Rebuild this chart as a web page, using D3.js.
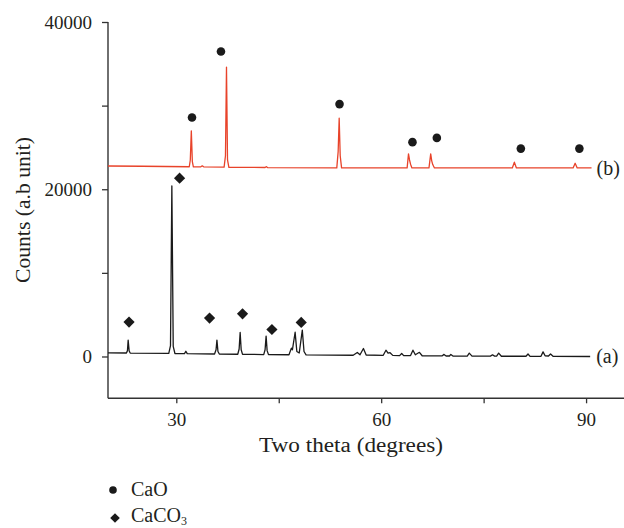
<!DOCTYPE html>
<html>
<head>
<meta charset="utf-8">
<script src="https://cdn.jsdelivr.net/npm/d3@7/dist/d3.min.js"></script>
<style>
  html, body { margin: 0; padding: 0; background: #fff; }
  svg { display: block; }
  text { font-family: "Liberation Serif", "DejaVu Serif", serif; fill: #231f20; }
</style>
</head>
<body>
<svg id="chart" width="624" height="528"></svg>
<script>
// XRD pattern (a): raw limestone, CaCO3 reflections — [2θ, counts] vertices
const patternA = [
  [20.0, 430], [22.7, 420], [22.85, 700], [22.95, 1950], [23.1, 650], [23.25, 410],
  [28.9, 380], [29.15, 1300], [29.35, 20400], [29.55, 1200], [29.8, 360],
  [31.2, 350], [31.4, 630], [31.6, 340],
  [35.6, 300], [35.82, 800], [35.95, 1950], [36.1, 600], [36.3, 290],
  [39.0, 270], [39.2, 900], [39.35, 2870], [39.5, 800], [39.7, 260],
  [42.8, 230], [43.0, 800], [43.15, 2430], [43.3, 700], [43.5, 220],
  [46.5, 210], [46.85, 1000], [47.0, 800], [47.4, 2900], [47.65, 600],
  [48.0, 420], [48.45, 3150], [48.7, 600], [49.0, 200],
  [55.9, 150], [56.5, 480], [56.9, 200], [57.4, 960], [57.8, 180],
  [60.3, 140], [60.7, 750], [61.0, 400], [61.3, 450], [61.7, 130],
  [62.7, 100], [63.0, 350], [63.3, 100],
  [64.3, 110], [64.65, 750], [65.0, 200], [65.6, 500], [66.0, 90],
  [68.9, 70], [69.2, 250], [69.5, 60], [70.0, 60], [70.2, 250], [70.5, 60],
  [72.6, 50], [72.9, 400], [73.3, 50],
  [76.0, 40], [76.3, 200], [76.6, 40], [76.9, 40], [77.2, 400], [77.6, 30],
  [81.2, 30], [81.5, 300], [81.8, 20],
  [83.4, 30], [83.7, 550], [84.0, 80], [84.5, 60], [84.8, 300], [85.2, 10],
  [90.6, 0]
];

// XRD pattern (b): calcined product, CaO reflections — [2θ, counts] vertices
const patternB = [
  [20.0, 22780], [25.0, 22750], [31.9, 22690], [32.05, 23500], [32.2, 26980],
  [32.35, 23300], [32.5, 22680], [33.6, 22690], [33.8, 22800], [34.0, 22680],
  [37.0, 22650], [37.2, 24000], [37.35, 34610], [37.5, 23500], [37.7, 22620],
  [43.0, 22600], [43.2, 22700], [43.4, 22580],
  [53.5, 22550], [53.7, 24500], [53.85, 28500], [54.0, 24000], [54.2, 22550],
  [63.8, 22550], [64.0, 24230], [64.15, 23500], [64.3, 23000], [64.5, 22550],
  [67.0, 22550], [67.25, 24230], [67.4, 23400], [67.55, 22950], [67.8, 22550],
  [79.2, 22550], [79.5, 23230], [79.8, 22550],
  [88.1, 22550], [88.4, 23110], [88.7, 22550],
  [90.8, 22550]
];

// Phase markers placed above the indexed reflections — [2θ, counts]
const caoMarks = [[32.3, 28575], [36.54, 36480], [53.9, 30180], [64.58, 25630],
                  [68.15, 26140], [80.45, 24860], [89.02, 24860]];
const caco3Marks = [[23.08, 4110], [30.48, 21320], [34.87, 4590], [39.7, 5100],
                    [44.0, 3230], [48.29, 4070]];

const xTicks = [30, 45, 60, 75, 90];
const xTickLabels = ["30", "", "60", "", "90"];
const yTicks = [0, 10000, 20000, 30000, 40000];
const yTickLabels = ["0", "", "20000", "", "40000"];
const seriesLabels = ["(a)", "(b)"];
const legendItems = ["CaO", "CaCO3"];

const svg = d3.select("#chart");
const x = d3.scaleLinear().domain([20, 95.7]).range([108, 625]);
const y = d3.scaleLinear().domain([-5000, 40000]).range([398.3, 22]);

const axisColor = "#333";

// x axis
const gx = svg.append("g").attr("transform", `translate(0,${y(-5000)})`)
  .call(d3.axisBottom(x).tickValues(xTicks).tickSize(5).tickPadding(9)
    .tickFormat((d, i) => xTickLabels[i]));
// y axis
const gy = svg.append("g").attr("transform", `translate(${x(20)},0)`)
  .call(d3.axisLeft(y).tickValues(yTicks).tickSize(6).tickPadding(10)
    .tickFormat((d, i) => yTickLabels[i]));

[gx, gy].forEach(g => {
  g.select(".domain").attr("stroke", axisColor).attr("stroke-width", 1.4);
  g.selectAll(".tick line").attr("stroke", axisColor).attr("stroke-width", 1.3);
  g.selectAll(".tick text").attr("font-size", 19)
    .attr("font-family", "Liberation Serif, DejaVu Serif, serif").attr("fill", "#231f20");
});
gx.select(".domain").attr("d", `M${x(20)},0H${x(95.7)}`);
gy.select(".domain").attr("d", `M0,${y(-5000)}V${y(40000)}`);

// traces
const line = d3.line().x(d => x(d[0])).y(d => y(d[1]));
svg.append("path").datum(patternA).attr("d", line)
  .attr("fill", "none").attr("stroke", "#1a1a1a").attr("stroke-width", 1.3)
  .attr("stroke-linejoin", "round");
svg.append("path").datum(patternB).attr("d", line)
  .attr("fill", "none").attr("stroke", "#e8432a").attr("stroke-width", 1.3)
  .attr("stroke-linejoin", "round");

// series labels at the right end of each trace
svg.append("text").attr("x", x(90.6) + 6).attr("y", y(patternA[patternA.length - 1][1]))
  .attr("dy", "0.33em").attr("font-size", 20).text(seriesLabels[0]);
svg.append("text").attr("x", x(90.8) + 5).attr("y", y(patternB[patternB.length - 1][1]))
  .attr("dy", "0.33em").attr("font-size", 20).text(seriesLabels[1]);

// phase markers
const diamond = r => `M0,${-r}L${r},0L0,${r}L${-r},0Z`;
svg.append("g").selectAll("circle").data(caoMarks).join("circle")
  .attr("cx", d => x(d[0])).attr("cy", d => y(d[1])).attr("r", 4.3).attr("fill", "#1a1a1a");
svg.append("g").selectAll("path").data(caco3Marks).join("path")
  .attr("transform", d => `translate(${x(d[0])},${y(d[1])})`)
  .attr("d", diamond(5.6)).attr("fill", "#1a1a1a");

// axis titles
svg.append("text").attr("x", 351).attr("y", 452).attr("text-anchor", "middle")
  .attr("font-size", 20).attr("textLength", 184).attr("lengthAdjust", "spacingAndGlyphs")
  .text("Two theta (degrees)");
svg.append("text").attr("transform", "translate(30,210) rotate(-90)")
  .attr("text-anchor", "middle").attr("font-size", 20)
  .attr("textLength", 146).attr("lengthAdjust", "spacingAndGlyphs")
  .text("Counts (a.b unit)");

// legend
const lg = svg.append("g");
lg.append("circle").attr("cx", 113).attr("cy", 490).attr("r", 3.8).attr("fill", "#1a1a1a");
lg.append("text").attr("x", 131).attr("y", 495.5).attr("font-size", 20).text(legendItems[0]);
lg.append("path").attr("transform", "translate(115,518)").attr("d", diamond(4.8)).attr("fill", "#1a1a1a");
const t2 = lg.append("text").attr("x", 131).attr("y", 522).attr("font-size", 20);
t2.append("tspan").text(legendItems[1].slice(0, 4));
t2.append("tspan").attr("font-size", 12).attr("dy", 2.5).text(legendItems[1].slice(4));
</script>
</body>
</html>
